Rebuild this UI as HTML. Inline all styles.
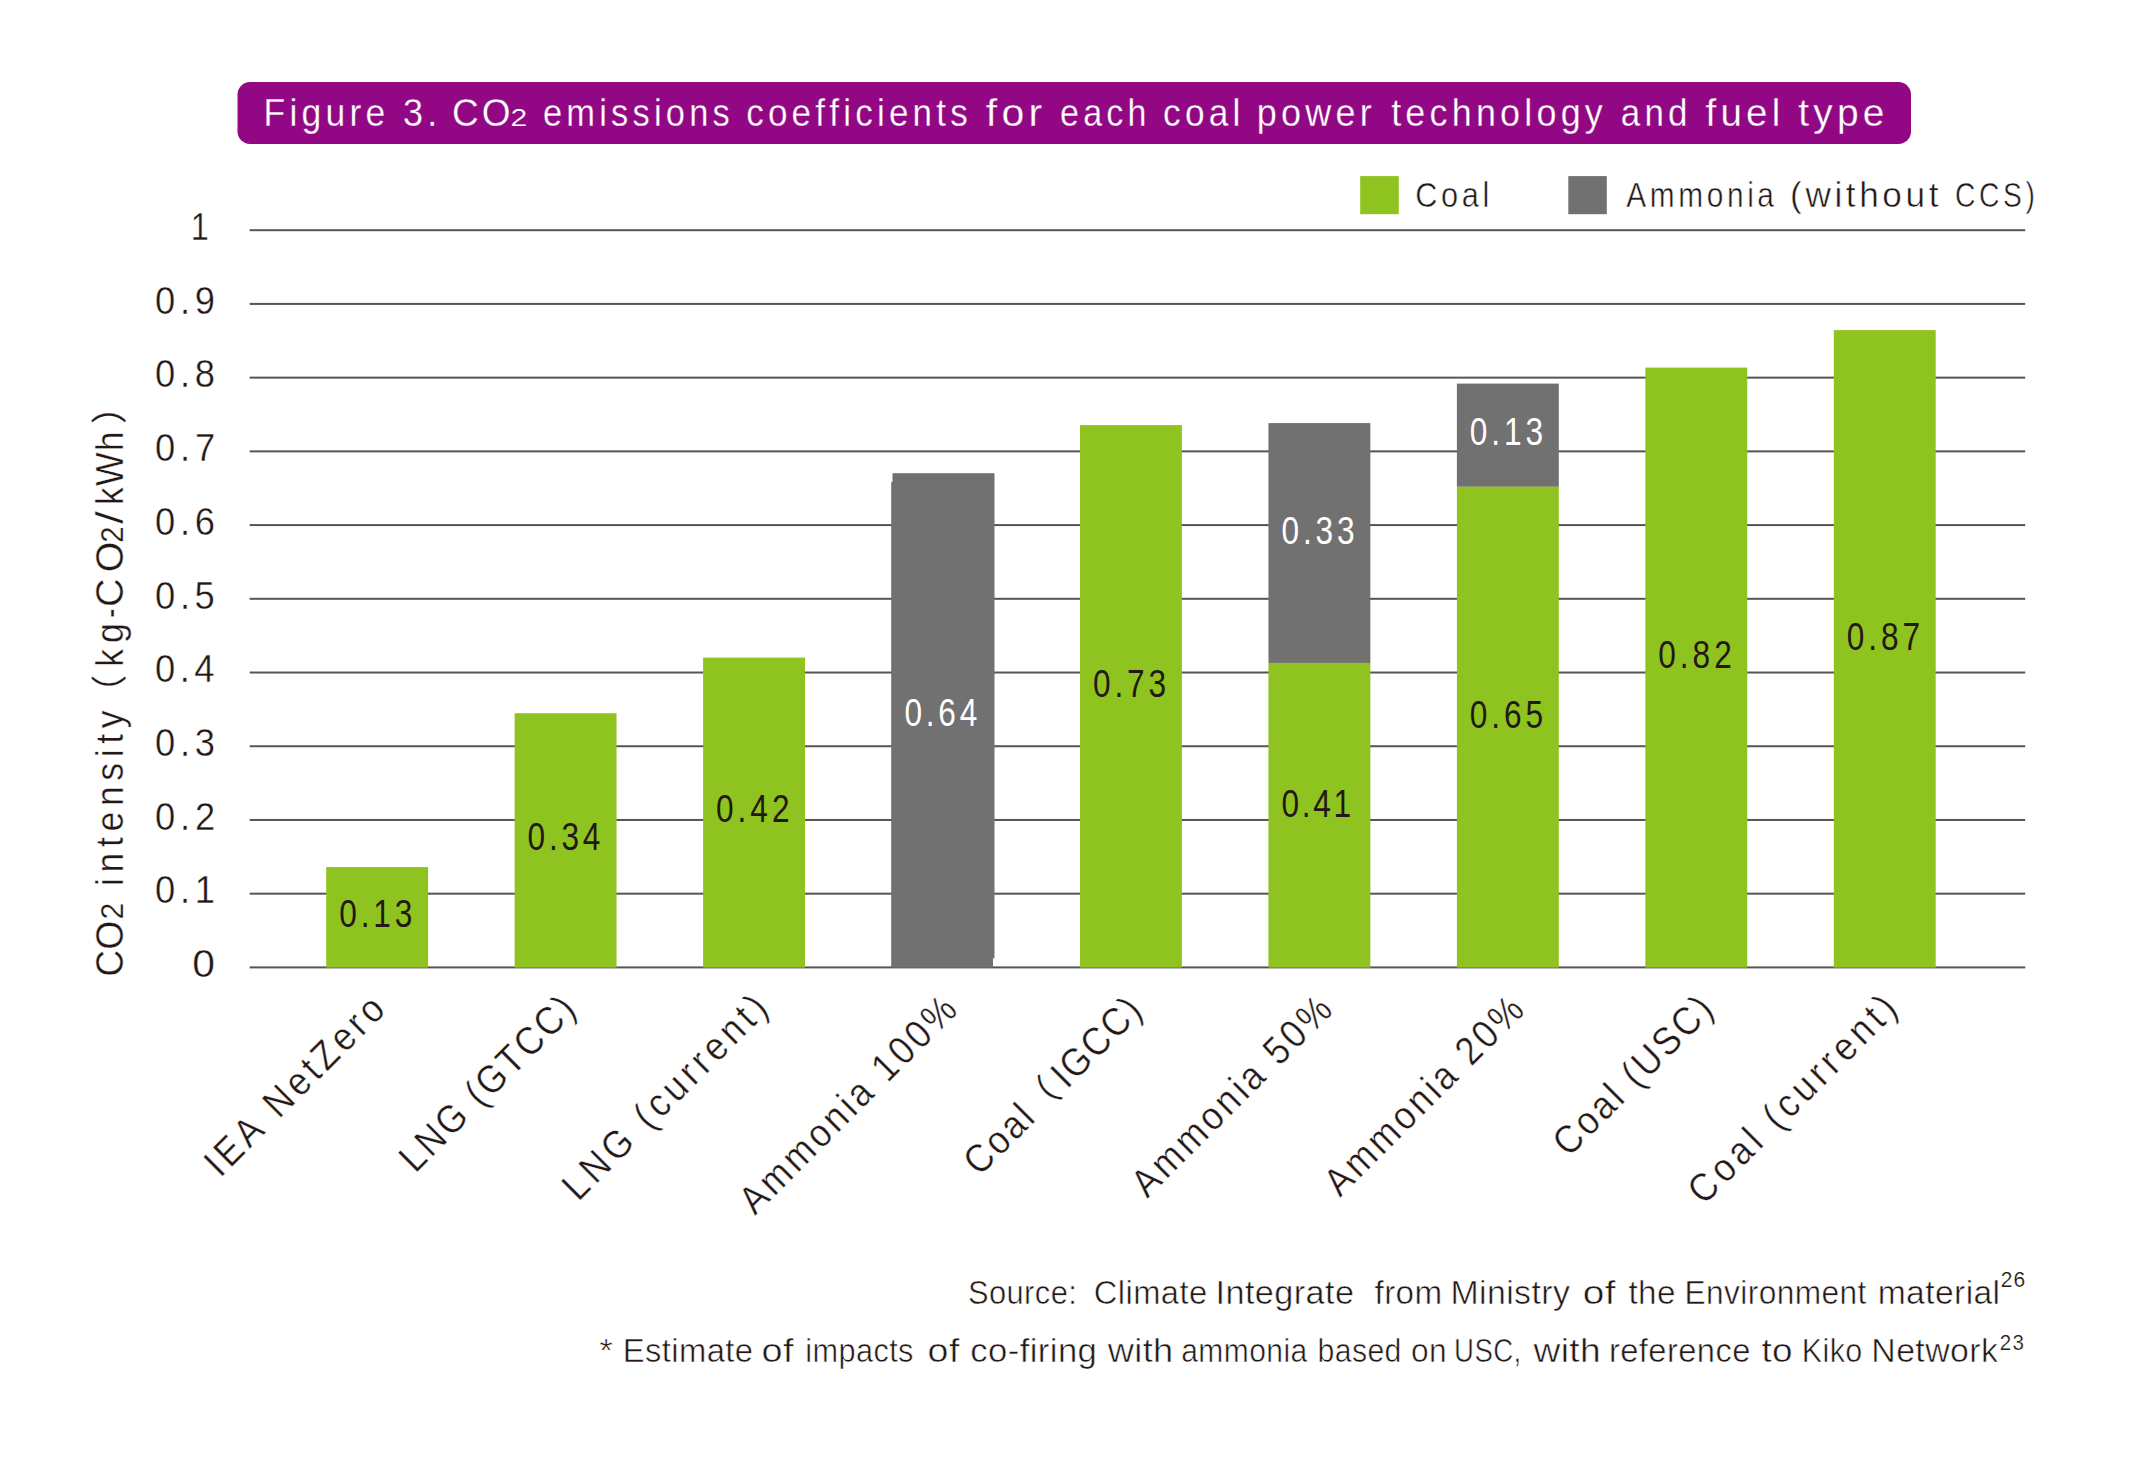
<!DOCTYPE html>
<html lang="en">
<head>
<meta charset="utf-8">
<title>Figure 3. CO2 emissions coefficients for each coal power technology and fuel type</title>
<style>
html,body{margin:0;padding:0;background:#fff;}
body{width:2129px;height:1463px;overflow:hidden;}
svg{display:block;}
svg text{font-family:"Liberation Sans", "Noto Sans CJK JP", sans-serif;font-kerning:none;font-variant-ligatures:none;white-space:pre;vector-effect:non-scaling-stroke;stroke-linejoin:round;}
</style>
</head>
<body>
<svg width="2129" height="1463" viewBox="0 0 2129 1463">
<rect width="2129" height="1463" fill="#fff"/>
<rect x="237.5" y="82" width="1673.5" height="62" rx="12.5" ry="12.5" fill="#920783"/>
<rect x="249.7" y="966.40" width="1775.5" height="2" fill="#575455"/>
<rect x="249.7" y="892.68" width="1775.5" height="2" fill="#575455"/>
<rect x="249.7" y="818.96" width="1775.5" height="2" fill="#575455"/>
<rect x="249.7" y="745.24" width="1775.5" height="2" fill="#575455"/>
<rect x="249.7" y="671.52" width="1775.5" height="2" fill="#575455"/>
<rect x="249.7" y="597.80" width="1775.5" height="2" fill="#575455"/>
<rect x="249.7" y="524.08" width="1775.5" height="2" fill="#575455"/>
<rect x="249.7" y="450.36" width="1775.5" height="2" fill="#575455"/>
<rect x="249.7" y="376.64" width="1775.5" height="2" fill="#575455"/>
<rect x="249.7" y="302.92" width="1775.5" height="2" fill="#575455"/>
<rect x="249.7" y="229.20" width="1775.5" height="2" fill="#575455"/>
<rect x="326.20" y="867.10" width="101.9" height="100.50" fill="#8fc31f"/>
<rect x="514.65" y="713.20" width="101.9" height="254.40" fill="#8fc31f"/>
<rect x="703.10" y="657.60" width="101.9" height="310.00" fill="#8fc31f"/>
<rect x="892.5" y="473.2" width="102" height="485.1" fill="#727171"/>
<rect x="891.2" y="481.9" width="101.8" height="485.7" fill="#727171"/>
<rect x="1080.00" y="425.10" width="101.9" height="542.50" fill="#8fc31f"/>
<rect x="1268.45" y="423.10" width="101.9" height="239.90" fill="#727171"/>
<rect x="1268.45" y="662.90" width="101.9" height="304.70" fill="#8fc31f"/>
<rect x="1456.90" y="383.60" width="101.9" height="103.20" fill="#727171"/>
<rect x="1456.90" y="486.70" width="101.9" height="480.90" fill="#8fc31f"/>
<rect x="1645.35" y="367.60" width="101.9" height="600.00" fill="#8fc31f"/>
<rect x="1833.80" y="330.10" width="101.9" height="637.50" fill="#8fc31f"/>
<rect x="1360.2" y="176.1" width="38.6" height="38.1" fill="#8fc31f"/>
<rect x="1568.3" y="176.1" width="38.5" height="38.1" fill="#727171"/>
<text transform="translate(1415.24,207.30) scale(0.8739,1)" font-size="35.18" fill="#231815" stroke="#fff" stroke-width="0.49" style="letter-spacing:4.120px">Coal</text>
<text transform="translate(1626.34,207.00) scale(0.8485,1)" font-size="35.18" fill="#231815" stroke="#fff" stroke-width="0.49" style="letter-spacing:4.243px">Ammonia</text>
<text transform="translate(1790.12,207.00) scale(0.9998,1)" font-size="35.18" fill="#231815" stroke="#fff" stroke-width="0.49" style="letter-spacing:3.601px">(without</text>
<text transform="translate(1955.06,207.00) scale(0.8035,1)" font-size="35.18" fill="#231815" stroke="#fff" stroke-width="0.49" style="letter-spacing:4.480px">CCS)</text>
<g id="title">
<text transform="translate(263.59,125.50) scale(0.9110,1)" font-size="38.95" fill="#fff" stroke="#920783" stroke-width="0.27" style="letter-spacing:4.610px">Figure</text>
<text transform="translate(402.93,125.50) scale(0.9254,1)" font-size="38.95" fill="#fff" stroke="#920783" stroke-width="0.27" style="letter-spacing:4.538px">3.</text>
<text transform="translate(452.12,125.50) scale(0.9507,1)" font-size="38.95" fill="#fff" stroke="#920783" stroke-width="0.27" style="letter-spacing:3.155px">CO</text>
<text transform="translate(510.59,125.80) scale(1.2693,1)" font-size="23.69" fill="#fff" stroke="#920783" stroke-width="0.21" style="letter-spacing:0.000px">2</text>
<text transform="translate(542.93,125.50) scale(0.8858,1)" font-size="38.95" fill="#fff" stroke="#920783" stroke-width="0.27" style="letter-spacing:4.741px">emissions</text>
<text transform="translate(746.21,125.50) scale(0.8999,1)" font-size="38.95" fill="#fff" stroke="#920783" stroke-width="0.27" style="letter-spacing:4.667px">coefficients</text>
<text transform="translate(985.82,125.50) scale(1.0528,1)" font-size="38.95" fill="#fff" stroke="#920783" stroke-width="0.27" style="letter-spacing:3.989px">for</text>
<text transform="translate(1060.05,125.50) scale(0.8744,1)" font-size="38.95" fill="#fff" stroke="#920783" stroke-width="0.27" style="letter-spacing:4.803px">each</text>
<text transform="translate(1163.10,125.50) scale(0.9048,1)" font-size="38.95" fill="#fff" stroke="#920783" stroke-width="0.27" style="letter-spacing:4.642px">coal</text>
<text transform="translate(1256.78,125.50) scale(0.9248,1)" font-size="38.95" fill="#fff" stroke="#920783" stroke-width="0.27" style="letter-spacing:4.541px">power</text>
<text transform="translate(1391.16,125.50) scale(0.9230,1)" font-size="38.95" fill="#fff" stroke="#920783" stroke-width="0.27" style="letter-spacing:4.550px">technology</text>
<text transform="translate(1620.81,125.50) scale(0.8976,1)" font-size="38.95" fill="#fff" stroke="#920783" stroke-width="0.27" style="letter-spacing:4.679px">and</text>
<text transform="translate(1705.55,125.50) scale(0.9891,1)" font-size="38.95" fill="#fff" stroke="#920783" stroke-width="0.27" style="letter-spacing:4.246px">fuel</text>
<text transform="translate(1798.31,125.50) scale(0.9985,1)" font-size="38.95" fill="#fff" stroke="#920783" stroke-width="0.27" style="letter-spacing:4.206px">type</text>
</g>
<text transform="translate(192.21,977.20) scale(1.0318,1)" font-size="39.54" fill="#231815" stroke="#fff" stroke-width="0.36" style="letter-spacing:0.000px">0</text>
<text transform="translate(155.08,903.48) scale(0.9200,1)" font-size="39.54" fill="#231815" stroke="#fff" stroke-width="0.36" style="letter-spacing:5.127px">0.1</text>
<text transform="translate(155.08,829.76) scale(0.9200,1)" font-size="39.54" fill="#231815" stroke="#fff" stroke-width="0.36" style="letter-spacing:5.156px">0.2</text>
<text transform="translate(155.08,756.04) scale(0.9200,1)" font-size="39.54" fill="#231815" stroke="#fff" stroke-width="0.36" style="letter-spacing:5.031px">0.3</text>
<text transform="translate(155.08,682.32) scale(0.9200,1)" font-size="39.54" fill="#231815" stroke="#fff" stroke-width="0.36" style="letter-spacing:4.741px">0.4</text>
<text transform="translate(155.08,608.60) scale(0.9200,1)" font-size="39.54" fill="#231815" stroke="#fff" stroke-width="0.36" style="letter-spacing:4.992px">0.5</text>
<text transform="translate(155.08,534.88) scale(0.9200,1)" font-size="39.54" fill="#231815" stroke="#fff" stroke-width="0.36" style="letter-spacing:5.031px">0.6</text>
<text transform="translate(155.08,461.16) scale(0.9200,1)" font-size="39.54" fill="#231815" stroke="#fff" stroke-width="0.36" style="letter-spacing:5.156px">0.7</text>
<text transform="translate(155.08,387.44) scale(0.9200,1)" font-size="39.54" fill="#231815" stroke="#fff" stroke-width="0.36" style="letter-spacing:5.021px">0.8</text>
<text transform="translate(155.08,313.72) scale(0.9200,1)" font-size="39.54" fill="#231815" stroke="#fff" stroke-width="0.36" style="letter-spacing:5.098px">0.9</text>
<text transform="translate(190.83,240.00) scale(0.8213,1)" font-size="39.54" fill="#231815" stroke="#fff" stroke-width="0.36" style="letter-spacing:0.000px">1</text>
<text transform="translate(339.16,927.00) scale(0.8000,1)" font-size="39.54" fill="#231815" style="letter-spacing:4.861px">0.13</text>
<text transform="translate(527.61,849.50) scale(0.8000,1)" font-size="39.54" fill="#231815" style="letter-spacing:4.668px">0.34</text>
<text transform="translate(716.06,822.00) scale(0.8000,1)" font-size="39.54" fill="#231815" style="letter-spacing:4.945px">0.42</text>
<text transform="translate(904.51,725.50) scale(0.8000,1)" font-size="39.54" fill="#fff" style="letter-spacing:4.668px">0.64</text>
<text transform="translate(1092.96,697.00) scale(0.8000,1)" font-size="39.54" fill="#231815" style="letter-spacing:4.861px">0.73</text>
<text transform="translate(1281.41,543.60) scale(0.8000,1)" font-size="39.54" fill="#fff" style="letter-spacing:4.861px">0.33</text>
<text transform="translate(1281.41,816.60) scale(0.8000,1)" font-size="39.54" fill="#231815" style="letter-spacing:3.426px">0.41</text>
<text transform="translate(1469.86,445.00) scale(0.8000,1)" font-size="39.54" fill="#fff" style="letter-spacing:4.861px">0.13</text>
<text transform="translate(1469.86,728.10) scale(0.8000,1)" font-size="39.54" fill="#231815" style="letter-spacing:4.836px">0.65</text>
<text transform="translate(1658.31,668.30) scale(0.8000,1)" font-size="39.54" fill="#231815" style="letter-spacing:4.945px">0.82</text>
<text transform="translate(1846.76,649.90) scale(0.8000,1)" font-size="39.54" fill="#231815" style="letter-spacing:4.945px">0.87</text>
<g id="x-labels">
<text transform="translate(220.19,1178.46) rotate(-45) scale(0.9000,1)" font-size="39.54" fill="#231815" stroke="#fff" stroke-width="0.36" style="letter-spacing:4.445px">IEA NetZero</text>
<text transform="translate(415.15,1174.00) rotate(-45) scale(0.9000,1)" font-size="39.54" fill="#231815" stroke="#fff" stroke-width="0.36" style="letter-spacing:2.738px">LNG (GTCC)</text>
<text transform="translate(578.27,1202.18) rotate(-45) scale(0.9000,1)" font-size="39.54" fill="#231815" stroke="#fff" stroke-width="0.36" style="letter-spacing:4.938px">LNG (current)</text>
<text transform="translate(755.03,1216.07) rotate(-45) scale(0.9000,1)" font-size="39.54" fill="#231815" stroke="#fff" stroke-width="0.36" style="letter-spacing:3.793px">Ammonia 100%</text>
<text transform="translate(1147.21,1198.99) rotate(-45) scale(0.9000,1)" font-size="39.54" fill="#231815" stroke="#fff" stroke-width="0.36" style="letter-spacing:3.688px">Ammonia 50%</text>
<text transform="translate(1339.99,1198.11) rotate(-45) scale(0.9000,1)" font-size="39.54" fill="#231815" stroke="#fff" stroke-width="0.36" style="letter-spacing:3.523px">Ammonia 20%</text>
<text transform="translate(1568.64,1158.01) rotate(-45) scale(0.9000,1)" font-size="39.54" fill="#231815" stroke="#fff" stroke-width="0.36" style="letter-spacing:3.115px">Coal (USC)</text>
<text transform="translate(1703.80,1206.10) rotate(-45) scale(0.9000,1)" font-size="39.54" fill="#231815" stroke="#fff" stroke-width="0.36" style="letter-spacing:5.015px">Coal (current)</text>
<text transform="translate(979.54,1177.11) rotate(-45) scale(0.9000,1)" font-size="39.54" fill="#231815" stroke="#fff" stroke-width="0.36" style="letter-spacing:2.781px">Coal</text>
<text transform="translate(1036.79,1119.86) rotate(-45)" font-size="36.00" fill="#231815" stroke="#fff" stroke-width="0.19">（</text>
<text transform="translate(1066.95,1089.70) rotate(-45) scale(0.9000,1)" font-size="39.54" fill="#231815" stroke="#fff" stroke-width="0.36" style="letter-spacing:2.191px">IGCC)</text>
</g>
<g id="y-axis-title">
<text transform="translate(123.10,976.69) rotate(-90) scale(0.9422,1)" font-size="39.54" fill="#231815" stroke="#fff" stroke-width="0.36" style="letter-spacing:0.000px">CO</text>
<text transform="translate(123.10,919.42) rotate(-90) scale(0.9924,1)" font-size="30.52" fill="#231815" stroke="#fff" stroke-width="0.27" style="letter-spacing:0.000px">2</text>
<text transform="translate(123.10,885.98) rotate(-90) scale(0.9000,1)" font-size="39.54" fill="#231815" stroke="#fff" stroke-width="0.36" style="letter-spacing:6.253px">intensity</text>
<text transform="translate(123.10,711.34) rotate(-90)" font-size="36.60" fill="#231815" stroke="#fff" stroke-width="0.20">（</text>
<text transform="translate(123.10,666.70) rotate(-90) scale(0.9000,1)" font-size="39.54" fill="#231815" stroke="#fff" stroke-width="0.36" style="letter-spacing:6.679px">kg</text>
<text transform="translate(123.10,617.71) rotate(-90) scale(0.7000,1)" font-size="39.54" fill="#231815" stroke="#fff" stroke-width="0.36" style="letter-spacing:0.000px">-</text>
<text transform="translate(123.10,606.91) rotate(-90) scale(1.0000,1)" font-size="39.54" fill="#231815" stroke="#fff" stroke-width="0.36" style="letter-spacing:6.096px">CO</text>
<text transform="translate(123.10,542.87) rotate(-90) scale(0.9564,1)" font-size="30.52" fill="#231815" stroke="#fff" stroke-width="0.27" style="letter-spacing:0.000px">2</text>
<text transform="translate(123.10,524.12) rotate(-90) scale(1.1500,1)" font-size="39.54" fill="#231815" stroke="#fff" stroke-width="0.36" style="letter-spacing:0.000px">/</text>
<text transform="translate(123.10,504.90) rotate(-90) scale(0.9000,1)" font-size="39.54" fill="#231815" stroke="#fff" stroke-width="0.36" style="letter-spacing:1.247px">kWh</text>
<text transform="translate(123.10,424.18) rotate(-90)" font-size="36.60" fill="#231815" stroke="#fff" stroke-width="0.20">）</text>
</g>
<g id="notes">
<text transform="translate(968.00,1303.80) scale(0.9318,1)" font-size="33.14" fill="#231815" stroke="#fff" stroke-width="0.53" style="letter-spacing:0.429px">Source:</text>
<text transform="translate(1093.74,1303.80) scale(0.9883,1)" font-size="33.14" fill="#231815" stroke="#fff" stroke-width="0.53" style="letter-spacing:0.405px">Climate</text>
<text transform="translate(1215.54,1303.80) scale(1.0342,1)" font-size="33.14" fill="#231815" stroke="#fff" stroke-width="0.53" style="letter-spacing:0.387px">Integrate</text>
<text transform="translate(1374.53,1303.80) scale(1.0027,1)" font-size="33.14" fill="#231815" stroke="#fff" stroke-width="0.53" style="letter-spacing:0.399px">from</text>
<text transform="translate(1450.52,1303.80) scale(1.0210,1)" font-size="33.14" fill="#231815" stroke="#fff" stroke-width="0.53" style="letter-spacing:0.392px">Ministry</text>
<text transform="translate(1582.67,1303.80) scale(1.1713,1)" font-size="33.14" fill="#231815" stroke="#fff" stroke-width="0.53" style="letter-spacing:0.341px">of</text>
<text transform="translate(1628.40,1303.80) scale(1.0046,1)" font-size="33.14" fill="#231815" stroke="#fff" stroke-width="0.53" style="letter-spacing:0.398px">the</text>
<text transform="translate(1684.50,1303.80) scale(0.9564,1)" font-size="33.14" fill="#231815" stroke="#fff" stroke-width="0.53" style="letter-spacing:0.418px">Environment</text>
<text transform="translate(1877.67,1303.80) scale(1.0154,1)" font-size="33.14" fill="#231815" stroke="#fff" stroke-width="0.53" style="letter-spacing:0.394px">material</text>
<text transform="translate(2000.64,1287.00) scale(0.9514,1)" font-size="22.09" fill="#231815" stroke="#fff" stroke-width="0.20" style="letter-spacing:1.261px">26</text>
<text transform="translate(599.14,1362.10) scale(1.0553,1)" font-size="33.14" fill="#231815" stroke="#fff" stroke-width="0.53" style="letter-spacing:0.000px">*</text>
<text transform="translate(622.71,1362.10) scale(0.9893,1)" font-size="33.14" fill="#231815" stroke="#fff" stroke-width="0.53" style="letter-spacing:0.404px">Estimate</text>
<text transform="translate(761.51,1362.10) scale(1.1409,1)" font-size="33.14" fill="#231815" stroke="#fff" stroke-width="0.53" style="letter-spacing:0.351px">of</text>
<text transform="translate(805.24,1362.10) scale(0.9272,1)" font-size="33.14" fill="#231815" stroke="#fff" stroke-width="0.53" style="letter-spacing:0.431px">impacts</text>
<text transform="translate(927.62,1362.10) scale(1.1333,1)" font-size="33.14" fill="#231815" stroke="#fff" stroke-width="0.53" style="letter-spacing:0.353px">of</text>
<text transform="translate(970.33,1362.10) scale(1.0470,1)" font-size="33.14" fill="#231815" stroke="#fff" stroke-width="0.53" style="letter-spacing:0.382px">co-firing</text>
<text transform="translate(1107.65,1362.10) scale(1.0927,1)" font-size="33.14" fill="#231815" stroke="#fff" stroke-width="0.53" style="letter-spacing:0.366px">with</text>
<text transform="translate(1181.22,1362.10) scale(0.9074,1)" font-size="33.14" fill="#231815" stroke="#fff" stroke-width="0.53" style="letter-spacing:0.441px">ammonia</text>
<text transform="translate(1317.45,1362.10) scale(0.9126,1)" font-size="33.14" fill="#231815" stroke="#fff" stroke-width="0.53" style="letter-spacing:0.438px">based</text>
<text transform="translate(1411.07,1362.10) scale(0.9574,1)" font-size="33.14" fill="#231815" stroke="#fff" stroke-width="0.53" style="letter-spacing:0.418px">on</text>
<text transform="translate(1454.07,1362.10) scale(0.8338,1)" font-size="33.14" fill="#231815" stroke="#fff" stroke-width="0.53" style="letter-spacing:0.480px">USC,</text>
<text transform="translate(1533.45,1362.10) scale(1.1209,1)" font-size="33.14" fill="#231815" stroke="#fff" stroke-width="0.53" style="letter-spacing:0.357px">with</text>
<text transform="translate(1608.93,1362.10) scale(0.9873,1)" font-size="33.14" fill="#231815" stroke="#fff" stroke-width="0.53" style="letter-spacing:0.405px">reference</text>
<text transform="translate(1761.44,1362.10) scale(1.1148,1)" font-size="33.14" fill="#231815" stroke="#fff" stroke-width="0.53" style="letter-spacing:0.359px">to</text>
<text transform="translate(1801.70,1362.10) scale(0.9212,1)" font-size="33.14" fill="#231815" stroke="#fff" stroke-width="0.53" style="letter-spacing:0.434px">Kiko</text>
<text transform="translate(1871.32,1362.10) scale(1.0213,1)" font-size="33.14" fill="#231815" stroke="#fff" stroke-width="0.53" style="letter-spacing:0.392px">Network</text>
<text transform="translate(1999.77,1350.00) scale(0.9292,1)" font-size="22.09" fill="#231815" stroke="#fff" stroke-width="0.20" style="letter-spacing:1.291px">23</text>
</g>
</svg>
</body>
</html>
